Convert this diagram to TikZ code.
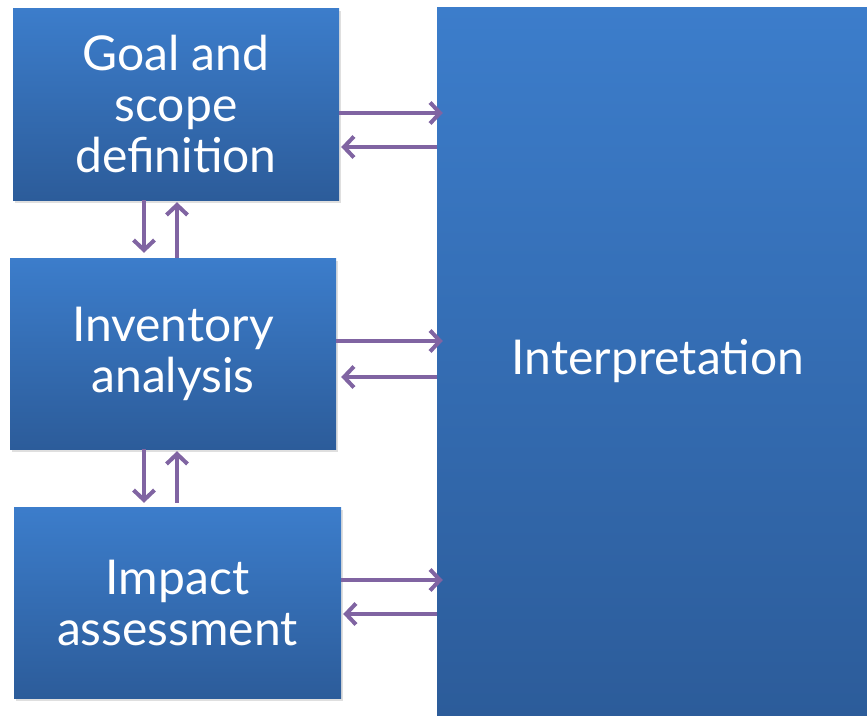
\documentclass[tikz,border=0pt]{standalone}
\usepackage{fontspec}
\setmainfont{Lato}
\usetikzlibrary{arrows.meta,shadows}
\definecolor{boxtop}{HTML}{3C7DCB}
\definecolor{boxbot}{HTML}{2C5C9A}
\definecolor{arrcol}{HTML}{8064A2}
\tikzset{
  stagebox/.style={rectangle, inner sep=0pt, top color=boxtop, bottom color=boxbot,
    text=white, align=center, font=\fontsize{48}{51}\selectfont,
    drop shadow={opacity=0.25, shadow xshift=1.5pt, shadow yshift=-3pt}},
  arr/.style={draw=arrcol, line width=4pt,
    -{Straight Barb[length=10pt,width=21pt,line width=4pt]}}
}
\begin{document}
\begin{tikzpicture}[x=1pt,y=-1pt]
\useasboundingbox (0,0) rectangle (867,715);
\fill[white] (0,0) rectangle (867,715);
\node[stagebox, minimum width=442pt, minimum height=708pt] (interp) at (658,361) {Interpretation};
\node[stagebox, minimum width=326pt, minimum height=192pt] (goal) at (176,104) {Goal and\\scope\\definition};
\node[stagebox, minimum width=326pt, minimum height=191pt] (inv) at (173,353.5) {Inventory\\analysis};
\node[stagebox, minimum width=327pt, minimum height=191pt] (imp) at (177.5,602.5) {Impact\\assessment};
% horizontal arrows
\draw[arr] (goal.east |- 0,113) -- ([xshift=6pt]interp.west |- 0,113);
\draw[arr] (interp.west |- 0,147) -- ([xshift=2pt]goal.east |- 0,147);
\draw[arr] (inv.east |- 0,341) -- ([xshift=6pt]interp.west |- 0,341);
\draw[arr] (interp.west |- 0,377) -- ([xshift=5pt]inv.east |- 0,377);
\draw[arr] (imp.east |- 0,580) -- ([xshift=6pt]interp.west |- 0,580);
\draw[arr] (interp.west |- 0,614) -- ([xshift=2pt]imp.east |- 0,614);
% vertical arrows
\draw[arr] (goal.south -| 144,0) -- ([yshift=5pt]inv.north -| 144,0);
\draw[arr] (inv.north -| 177,0) -- ([yshift=-2pt]goal.south -| 177,0);
\draw[arr] (inv.south -| 144,0) -- ([yshift=4pt]imp.north -| 144,0);
\draw[arr] ([yshift=4pt]imp.north -| 177,0) -- ([yshift=-2pt]inv.south -| 177,0);
\end{tikzpicture}
\end{document}
